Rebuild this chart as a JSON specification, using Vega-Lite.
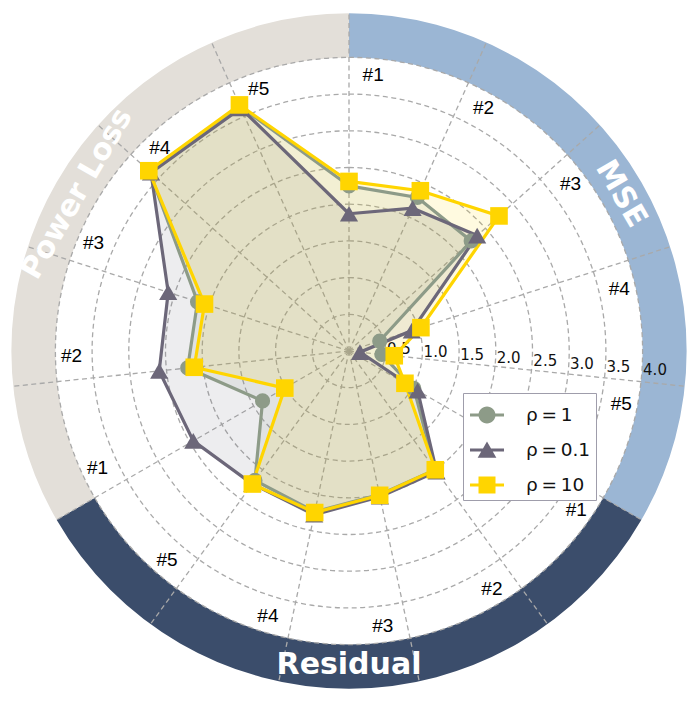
{
  "$schema": "https://vega.github.io/schema/vega-lite/v6.json",
  "width": 698,
  "height": 702,
  "autosize": "none",
  "padding": 0,
  "background": "white",
  "config": {"view": {"stroke": null}, "font": "DejaVu Sans"},
  "datasets": {
    "scores": [
      {"group": "MSE", "item": "#1", "series": "ρ=1", "value": 2.25},
      {"group": "MSE", "item": "#2", "series": "ρ=1", "value": 2.29},
      {"group": "MSE", "item": "#3", "series": "ρ=1", "value": 2.24},
      {"group": "MSE", "item": "#4", "series": "ρ=1", "value": 0.44},
      {"group": "MSE", "item": "#5", "series": "ρ=1", "value": 0.45},
      {"group": "Residual", "item": "#1", "series": "ρ=1", "value": 1.02},
      {"group": "Residual", "item": "#2", "series": "ρ=1", "value": 2.0},
      {"group": "Residual", "item": "#3", "series": "ρ=1", "value": 2.0},
      {"group": "Residual", "item": "#4", "series": "ρ=1", "value": 2.24},
      {"group": "Residual", "item": "#5", "series": "ρ=1", "value": 2.18},
      {"group": "Power Loss", "item": "#1", "series": "ρ=1", "value": 1.36},
      {"group": "Power Loss", "item": "#2", "series": "ρ=1", "value": 2.21},
      {"group": "Power Loss", "item": "#3", "series": "ρ=1", "value": 2.17},
      {"group": "Power Loss", "item": "#4", "series": "ρ=1", "value": 3.66},
      {"group": "Power Loss", "item": "#5", "series": "ρ=1", "value": 3.65},
      {"group": "MSE", "item": "#1", "series": "ρ=0.1", "value": 1.87},
      {"group": "MSE", "item": "#2", "series": "ρ=0.1", "value": 2.13},
      {"group": "MSE", "item": "#3", "series": "ρ=0.1", "value": 2.35},
      {"group": "MSE", "item": "#4", "series": "ρ=0.1", "value": 0.9},
      {"group": "MSE", "item": "#5", "series": "ρ=0.1", "value": 0.15},
      {"group": "Residual", "item": "#1", "series": "ρ=0.1", "value": 1.08},
      {"group": "Residual", "item": "#2", "series": "ρ=0.1", "value": 2.03},
      {"group": "Residual", "item": "#3", "series": "ρ=0.1", "value": 2.03},
      {"group": "Residual", "item": "#4", "series": "ρ=0.1", "value": 2.28},
      {"group": "Residual", "item": "#5", "series": "ρ=0.1", "value": 2.24},
      {"group": "Power Loss", "item": "#1", "series": "ρ=0.1", "value": 2.45},
      {"group": "Power Loss", "item": "#2", "series": "ρ=0.1", "value": 2.6},
      {"group": "Power Loss", "item": "#3", "series": "ρ=0.1", "value": 2.59},
      {"group": "Power Loss", "item": "#4", "series": "ρ=0.1", "value": 3.63},
      {"group": "Power Loss", "item": "#5", "series": "ρ=0.1", "value": 3.62},
      {"group": "MSE", "item": "#1", "series": "ρ=10", "value": 2.31},
      {"group": "MSE", "item": "#2", "series": "ρ=10", "value": 2.39},
      {"group": "MSE", "item": "#3", "series": "ρ=10", "value": 2.75},
      {"group": "MSE", "item": "#4", "series": "ρ=10", "value": 1.03},
      {"group": "MSE", "item": "#5", "series": "ρ=10", "value": 0.62},
      {"group": "Residual", "item": "#1", "series": "ρ=10", "value": 0.88},
      {"group": "Residual", "item": "#2", "series": "ρ=10", "value": 2.0},
      {"group": "Residual", "item": "#3", "series": "ρ=10", "value": 2.01},
      {"group": "Residual", "item": "#4", "series": "ρ=10", "value": 2.25},
      {"group": "Residual", "item": "#5", "series": "ρ=10", "value": 2.24},
      {"group": "Power Loss", "item": "#1", "series": "ρ=10", "value": 1.01},
      {"group": "Power Loss", "item": "#2", "series": "ρ=10", "value": 2.12},
      {"group": "Power Loss", "item": "#3", "series": "ρ=10", "value": 2.07},
      {"group": "Power Loss", "item": "#4", "series": "ρ=10", "value": 3.67},
      {"group": "Power Loss", "item": "#5", "series": "ρ=10", "value": 3.67}
    ],
    "groups": [
      {"group": "MSE", "start": 0, "end": 120},
      {"group": "Residual", "start": 120, "end": 240},
      {"group": "Power Loss", "start": 240, "end": 360}
    ],
    "ticks": [
      {"v": 0.5}, {"v": 1.0}, {"v": 1.5}, {"v": 2.0},
      {"v": 2.5}, {"v": 3.0}, {"v": 3.5}, {"v": 4.0}
    ]
  },
  "layer": [
    {
      "data": {"name": "scores"},
      "transform": [{"filter": "false"}],
      "mark": {"type": "point", "filled": true},
      "encoding": {
        "color": {
          "field": "series", "type": "nominal",
          "scale": {"domain": ["ρ=1", "ρ=0.1", "ρ=10"], "range": ["#8d9b88", "#6c6779", "#ffd500"]},
          "legend": {
            "title": null, "orient": "none", "legendX": 463, "legendY": 393,
            "fillColor": "white", "strokeColor": "#9f9dab", "padding": 5, "cornerRadius": 0,
            "labelFont": "DejaVu Sans", "labelFontSize": 18.5, "labelColor": "#111111", "labelOffset": 22,
            "labelExpr": "replace(datum.label, '=', '\u2009=\u2009')",
            "symbolSize": 1156, "symbolOffset": 2, "rowPadding": 8, "symbolStrokeWidth": 0, "symbolOpacity": 1
          }
        },
        "shape": {
          "field": "series", "type": "nominal",
          "scale": {"domain": ["ρ=1", "ρ=0.1", "ρ=10"], "range": [
            "M-1,-0.09H1V0.09H-1Z M0.5,0A0.5,0.5 0 1,1 -0.5,0A0.5,0.5 0 1,1 0.5,0Z",
            "M-1,-0.09H1V0.09H-1Z M0,-0.5L0.55,0.45L-0.55,0.45Z",
            "M-1,-0.09H1V0.09H-1Z M-0.5,-0.5H0.5V0.5H-0.5Z"
          ]},
          "legend": {
            "title": null, "orient": "none", "legendX": 463, "legendY": 393,
            "fillColor": "white", "strokeColor": "#9f9dab", "padding": 5, "cornerRadius": 0,
            "labelFont": "DejaVu Sans", "labelFontSize": 18.5, "labelColor": "#111111", "labelOffset": 22,
            "labelExpr": "replace(datum.label, '=', '\u2009=\u2009')",
            "symbolSize": 1156, "symbolOffset": 2, "rowPadding": 8, "symbolStrokeWidth": 0, "symbolOpacity": 1
          }
        }
      }
    },
    {
      "data": {"name": "groups"},
      "transform": [
        {"calculate": "4.6", "as": "outer"},
        {"calculate": "4.0", "as": "inner"}
      ],
      "mark": {"type": "arc"},
      "encoding": {
        "theta": {"field": "start", "type": "quantitative", "stack": null, "scale": {"domain": [0, 360], "range": [0, 6.28319]}},
        "theta2": {"field": "end"},
        "radius": {"field": "outer", "type": "quantitative", "scale": {"type": "linear", "domain": [0, 4], "range": [0, 293.6], "zero": true}},
        "radius2": {"field": "inner"},
        "fill": {"field": "group", "type": "nominal", "scale": {"domain": ["MSE", "Residual", "Power Loss"], "range": ["#9bb6d4", "#3b4d6b", "#e3dfd9"]}, "legend": null}
      }
    },
    {
      "data": {"name": "ticks"},
      "transform": [
        {"calculate": "0", "as": "a0"},
        {"calculate": "360", "as": "a1"}
      ],
      "mark": {"type": "arc", "filled": false, "stroke": "#a9a9a9", "strokeWidth": 1.3, "strokeDash": [5, 3.5]},
      "encoding": {
        "theta": {"field": "a0", "type": "quantitative", "stack": null, "scale": {"domain": [0, 360], "range": [0, 6.28319]}},
        "theta2": {"field": "a1"},
        "radius": {"field": "v", "type": "quantitative", "scale": {"type": "linear", "domain": [0, 4], "range": [0, 293.6], "zero": true}}
      }
    },
    {
      "data": {"name": "scores"},
      "transform": [
        {"filter": "datum.series === 'ρ=1'"},
        {"calculate": "indexof(['MSE','Residual','Power Loss'], datum.group)*5 + toNumber(replace(datum.item,'#','')) - 1", "as": "k"},
        {"calculate": "datum.k*24*PI/180", "as": "th"},
        {"calculate": "0", "as": "cx"},
        {"calculate": "4.6*sin(datum.th)", "as": "gx"},
        {"calculate": "4.6*cos(datum.th)", "as": "gy"}
      ],
      "mark": {"type": "rule", "stroke": "#a9a9a9", "strokeWidth": 1.3, "strokeDash": [5, 3.5]},
      "encoding": {
        "x": {"field": "cx", "type": "quantitative", "scale": {"domain": [-4.7548, 4.7548], "nice": false, "zero": false}, "axis": null},
        "y": {"field": "cx", "type": "quantitative", "scale": {"domain": [-4.782, 4.782], "nice": false, "zero": false}, "axis": null},
        "x2": {"field": "gx"},
        "y2": {"field": "gy"}
      }
    },
    {
      "data": {"name": "scores"},
      "transform": [
        {"calculate": "indexof(['MSE','Residual','Power Loss'], datum.group)*5 + toNumber(replace(datum.item,'#','')) - 1", "as": "k"},
        {"calculate": "datum.k*24*PI/180", "as": "th"},
        {"calculate": "datum.value*sin(datum.th)", "as": "px"},
        {"calculate": "datum.value*cos(datum.th)", "as": "py"}
      ],
      "mark": {"type": "line", "interpolate": "linear-closed", "filled": true, "fillOpacity": 0.12, "strokeWidth": 0},
      "encoding": {
        "x": {"field": "px", "type": "quantitative", "scale": {"domain": [-4.7548, 4.7548], "nice": false, "zero": false}, "axis": null},
        "y": {"field": "py", "type": "quantitative", "scale": {"domain": [-4.782, 4.782], "nice": false, "zero": false}, "axis": null},
        "color": {"field": "series", "type": "nominal", "scale": {"domain": ["ρ=1", "ρ=0.1", "ρ=10"], "range": ["#8d9b88", "#6c6779", "#ffd500"]}},
        "order": {"field": "k", "type": "quantitative"}
      }
    },
    {
      "data": {"name": "ticks"},
      "transform": [
        {"calculate": "datum.v*sin(94.7*PI/180) + 0.02", "as": "tx"},
        {"calculate": "datum.v*cos(94.7*PI/180) + 0.068", "as": "ty"}
      ],
      "mark": {"type": "text", "align": "left", "baseline": "middle", "font": "DejaVu Sans", "fontSize": 15, "color": "#111111"},
      "encoding": {
        "x": {"field": "tx", "type": "quantitative", "scale": {"domain": [-4.7548, 4.7548], "nice": false, "zero": false}, "axis": null},
        "y": {"field": "ty", "type": "quantitative", "scale": {"domain": [-4.782, 4.782], "nice": false, "zero": false}, "axis": null},
        "text": {"field": "v", "type": "quantitative", "format": ".1f"}
      }
    },
    {
      "data": {"name": "scores"},
      "transform": [
        {"calculate": "indexof(['MSE','Residual','Power Loss'], datum.group)*5 + toNumber(replace(datum.item,'#','')) - 1", "as": "k"},
        {"calculate": "datum.k*24*PI/180", "as": "th"},
        {"calculate": "datum.value*sin(datum.th)", "as": "px"},
        {"calculate": "datum.value*cos(datum.th)", "as": "py"}
      ],
      "mark": {"type": "line", "interpolate": "linear-closed", "strokeWidth": 3.2},
      "encoding": {
        "x": {"field": "px", "type": "quantitative", "scale": {"domain": [-4.7548, 4.7548], "nice": false, "zero": false}, "axis": null},
        "y": {"field": "py", "type": "quantitative", "scale": {"domain": [-4.782, 4.782], "nice": false, "zero": false}, "axis": null},
        "color": {"field": "series", "type": "nominal", "scale": {"domain": ["ρ=1", "ρ=0.1", "ρ=10"], "range": ["#8d9b88", "#6c6779", "#ffd500"]}},
        "order": {"field": "k", "type": "quantitative"}
      }
    },
    {
      "data": {"name": "scores"},
      "transform": [
        {"filter": "datum.series === 'ρ=1'"},
        {"calculate": "indexof(['MSE','Residual','Power Loss'], datum.group)*5 + toNumber(replace(datum.item,'#','')) - 1", "as": "k"},
        {"calculate": "datum.k*24*PI/180", "as": "th"},
        {"calculate": "datum.value*sin(datum.th)", "as": "px"},
        {"calculate": "datum.value*cos(datum.th)", "as": "py"}
      ],
      "mark": {"type": "point", "filled": true, "opacity": 1, "strokeWidth": 0, "shape": "circle", "size": 230},
      "encoding": {
        "x": {"field": "px", "type": "quantitative", "scale": {"domain": [-4.7548, 4.7548], "nice": false, "zero": false}, "axis": null},
        "y": {"field": "py", "type": "quantitative", "scale": {"domain": [-4.782, 4.782], "nice": false, "zero": false}, "axis": null},
        "color": {"field": "series", "type": "nominal", "scale": {"domain": ["ρ=1", "ρ=0.1", "ρ=10"], "range": ["#8d9b88", "#6c6779", "#ffd500"]}}
      }
    },
    {
      "data": {"name": "scores"},
      "transform": [
        {"filter": "datum.series === 'ρ=0.1'"},
        {"calculate": "indexof(['MSE','Residual','Power Loss'], datum.group)*5 + toNumber(replace(datum.item,'#','')) - 1", "as": "k"},
        {"calculate": "datum.k*24*PI/180", "as": "th"},
        {"calculate": "datum.value*sin(datum.th)", "as": "px"},
        {"calculate": "datum.value*cos(datum.th)", "as": "py"}
      ],
      "mark": {"type": "point", "filled": true, "opacity": 1, "strokeWidth": 0, "shape": "triangle-up", "size": 330},
      "encoding": {
        "x": {"field": "px", "type": "quantitative", "scale": {"domain": [-4.7548, 4.7548], "nice": false, "zero": false}, "axis": null},
        "y": {"field": "py", "type": "quantitative", "scale": {"domain": [-4.782, 4.782], "nice": false, "zero": false}, "axis": null},
        "color": {"field": "series", "type": "nominal", "scale": {"domain": ["ρ=1", "ρ=0.1", "ρ=10"], "range": ["#8d9b88", "#6c6779", "#ffd500"]}}
      }
    },
    {
      "data": {"name": "scores"},
      "transform": [
        {"filter": "datum.series === 'ρ=10'"},
        {"calculate": "indexof(['MSE','Residual','Power Loss'], datum.group)*5 + toNumber(replace(datum.item,'#','')) - 1", "as": "k"},
        {"calculate": "datum.k*24*PI/180", "as": "th"},
        {"calculate": "datum.value*sin(datum.th)", "as": "px"},
        {"calculate": "datum.value*cos(datum.th)", "as": "py"}
      ],
      "mark": {"type": "point", "filled": true, "opacity": 1, "strokeWidth": 0, "shape": "square", "size": 310},
      "encoding": {
        "x": {"field": "px", "type": "quantitative", "scale": {"domain": [-4.7548, 4.7548], "nice": false, "zero": false}, "axis": null},
        "y": {"field": "py", "type": "quantitative", "scale": {"domain": [-4.782, 4.782], "nice": false, "zero": false}, "axis": null},
        "color": {"field": "series", "type": "nominal", "scale": {"domain": ["ρ=1", "ρ=0.1", "ρ=10"], "range": ["#8d9b88", "#6c6779", "#ffd500"]}}
      }
    },
    {
      "data": {"name": "scores"},
      "transform": [
        {"filter": "datum.series === 'ρ=1'"},
        {"calculate": "indexof(['MSE','Residual','Power Loss'], datum.group)*5 + toNumber(replace(datum.item,'#','')) - 1", "as": "k"},
        {"calculate": "(datum.k*24 + 5)*PI/180", "as": "lt"},
        {"calculate": "3.78*sin(datum.lt)", "as": "lx"},
        {"calculate": "3.78*cos(datum.lt)", "as": "ly"}
      ],
      "mark": {"type": "text", "align": "center", "baseline": "middle", "font": "Liberation Sans", "fontSize": 19, "color": "#000000"},
      "encoding": {
        "x": {"field": "lx", "type": "quantitative", "scale": {"domain": [-4.7548, 4.7548], "nice": false, "zero": false}, "axis": null},
        "y": {"field": "ly", "type": "quantitative", "scale": {"domain": [-4.782, 4.782], "nice": false, "zero": false}, "axis": null},
        "text": {"field": "item", "type": "nominal"}
      }
    },
    {
      "data": {"name": "groups"},
      "transform": [
        {"calculate": "(datum.start + datum.end)/2", "as": "mid"},
        {"calculate": "4.28*sin(datum.mid*PI/180)", "as": "tx"},
        {"calculate": "4.28*cos(datum.mid*PI/180)", "as": "ty"},
        {"calculate": "datum.mid > 90 && datum.mid < 270 ? datum.mid - 180 : (datum.mid >= 270 ? datum.mid - 360 : datum.mid)", "as": "rot"}
      ],
      "mark": {"type": "text", "align": "center", "baseline": "middle", "font": "DejaVu Sans", "fontWeight": "bold", "fontSize": 30, "color": "white"},
      "encoding": {
        "x": {"field": "tx", "type": "quantitative", "scale": {"domain": [-4.7548, 4.7548], "nice": false, "zero": false}, "axis": null},
        "y": {"field": "ty", "type": "quantitative", "scale": {"domain": [-4.782, 4.782], "nice": false, "zero": false}, "axis": null},
        "angle": {"field": "rot", "type": "quantitative", "scale": null},
        "text": {"field": "group", "type": "nominal"}
      }
    }
  ]
}
